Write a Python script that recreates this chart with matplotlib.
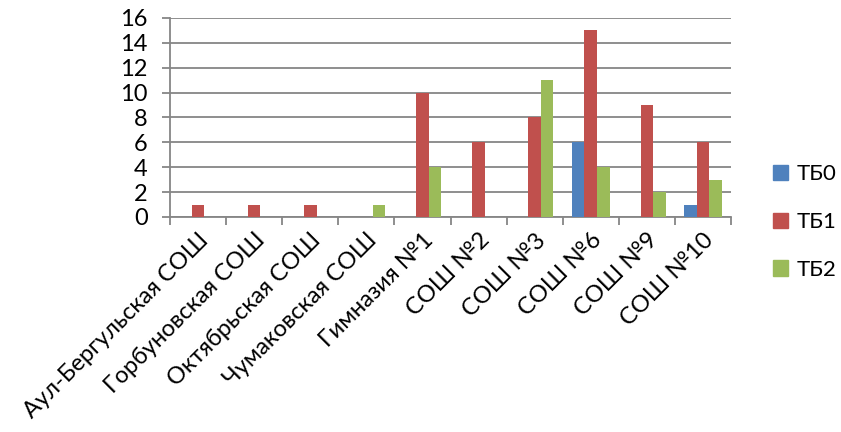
import numpy as np
import matplotlib
matplotlib.use("Agg")
import matplotlib.pyplot as plt
from matplotlib.patches import Patch

schools = ["Аул-Бергульская СОШ", "Горбуновская СОШ", "Октябрьская СОШ",
           "Чумаковская СОШ", "Гимназия №1", "СОШ №2", "СОШ №3",
           "СОШ №6", "СОШ №9", "СОШ №10"]
tb0 = [0, 0, 0, 0, 0, 0, 0, 6, 0, 1]
tb1 = [1, 1, 1, 0, 10, 6, 8, 15, 9, 6]
tb2 = [0, 0, 0, 1, 4, 0, 11, 4, 2, 3]
series_names = ["ТБ0", "ТБ1", "ТБ2"]
colors = ["#4F81BD", "#C0504D", "#9BBB59"]

plt.rcParams["font.family"] = ["Lato", "DejaVu Sans"]
GRAY = "#868686"
FS = 17

fig = plt.figure(figsize=(8.41, 4.32), dpi=100)
ax = fig.add_axes([170/841, 1 - 217/432, 561/841, 199/432])

x = np.arange(len(schools))
w = 0.223
for i, (vals, c) in enumerate(zip([tb0, tb1, tb2], colors)):
    ax.bar(x + (i - 1) * w, vals, width=w, color=c, zorder=3)

ax.set_xlim(-0.5, len(schools) - 0.5)
ax.set_ylim(0, 16)
ax.set_yticks(range(0, 17, 2))
ax.yaxis.grid(True, color=GRAY, linewidth=1.3, zorder=0)

ax.set_xticks(x)
ax.set_xticklabels(schools, rotation=45, ha="right", rotation_mode="anchor", fontsize=FS)
ax.tick_params(axis="x", length=0, pad=9)
ax.set_xticks(np.arange(-0.5, len(schools)), minor=True)
ax.tick_params(axis="x", which="minor", length=6, width=1.3, color=GRAY, direction="out")
ax.tick_params(axis="y", length=6, width=1.3, color=GRAY, labelsize=FS, pad=10)

for s in ["top", "right"]:
    ax.spines[s].set_visible(False)
for s in ["left", "bottom"]:
    ax.spines[s].set_color(GRAY)
    ax.spines[s].set_linewidth(1.3)

handles = [Patch(color=c, label=n) for c, n in zip(colors, series_names)]
fig.legend(handles=handles, loc="center left", bbox_to_anchor=(773/841, 1 - 222/432),
           frameon=False, fontsize=16, handlelength=0.68, handleheight=0.68,
           labelspacing=1.25, handletextpad=0.4, borderpad=0, borderaxespad=0)

fig.savefig("out.png", dpi=100)
